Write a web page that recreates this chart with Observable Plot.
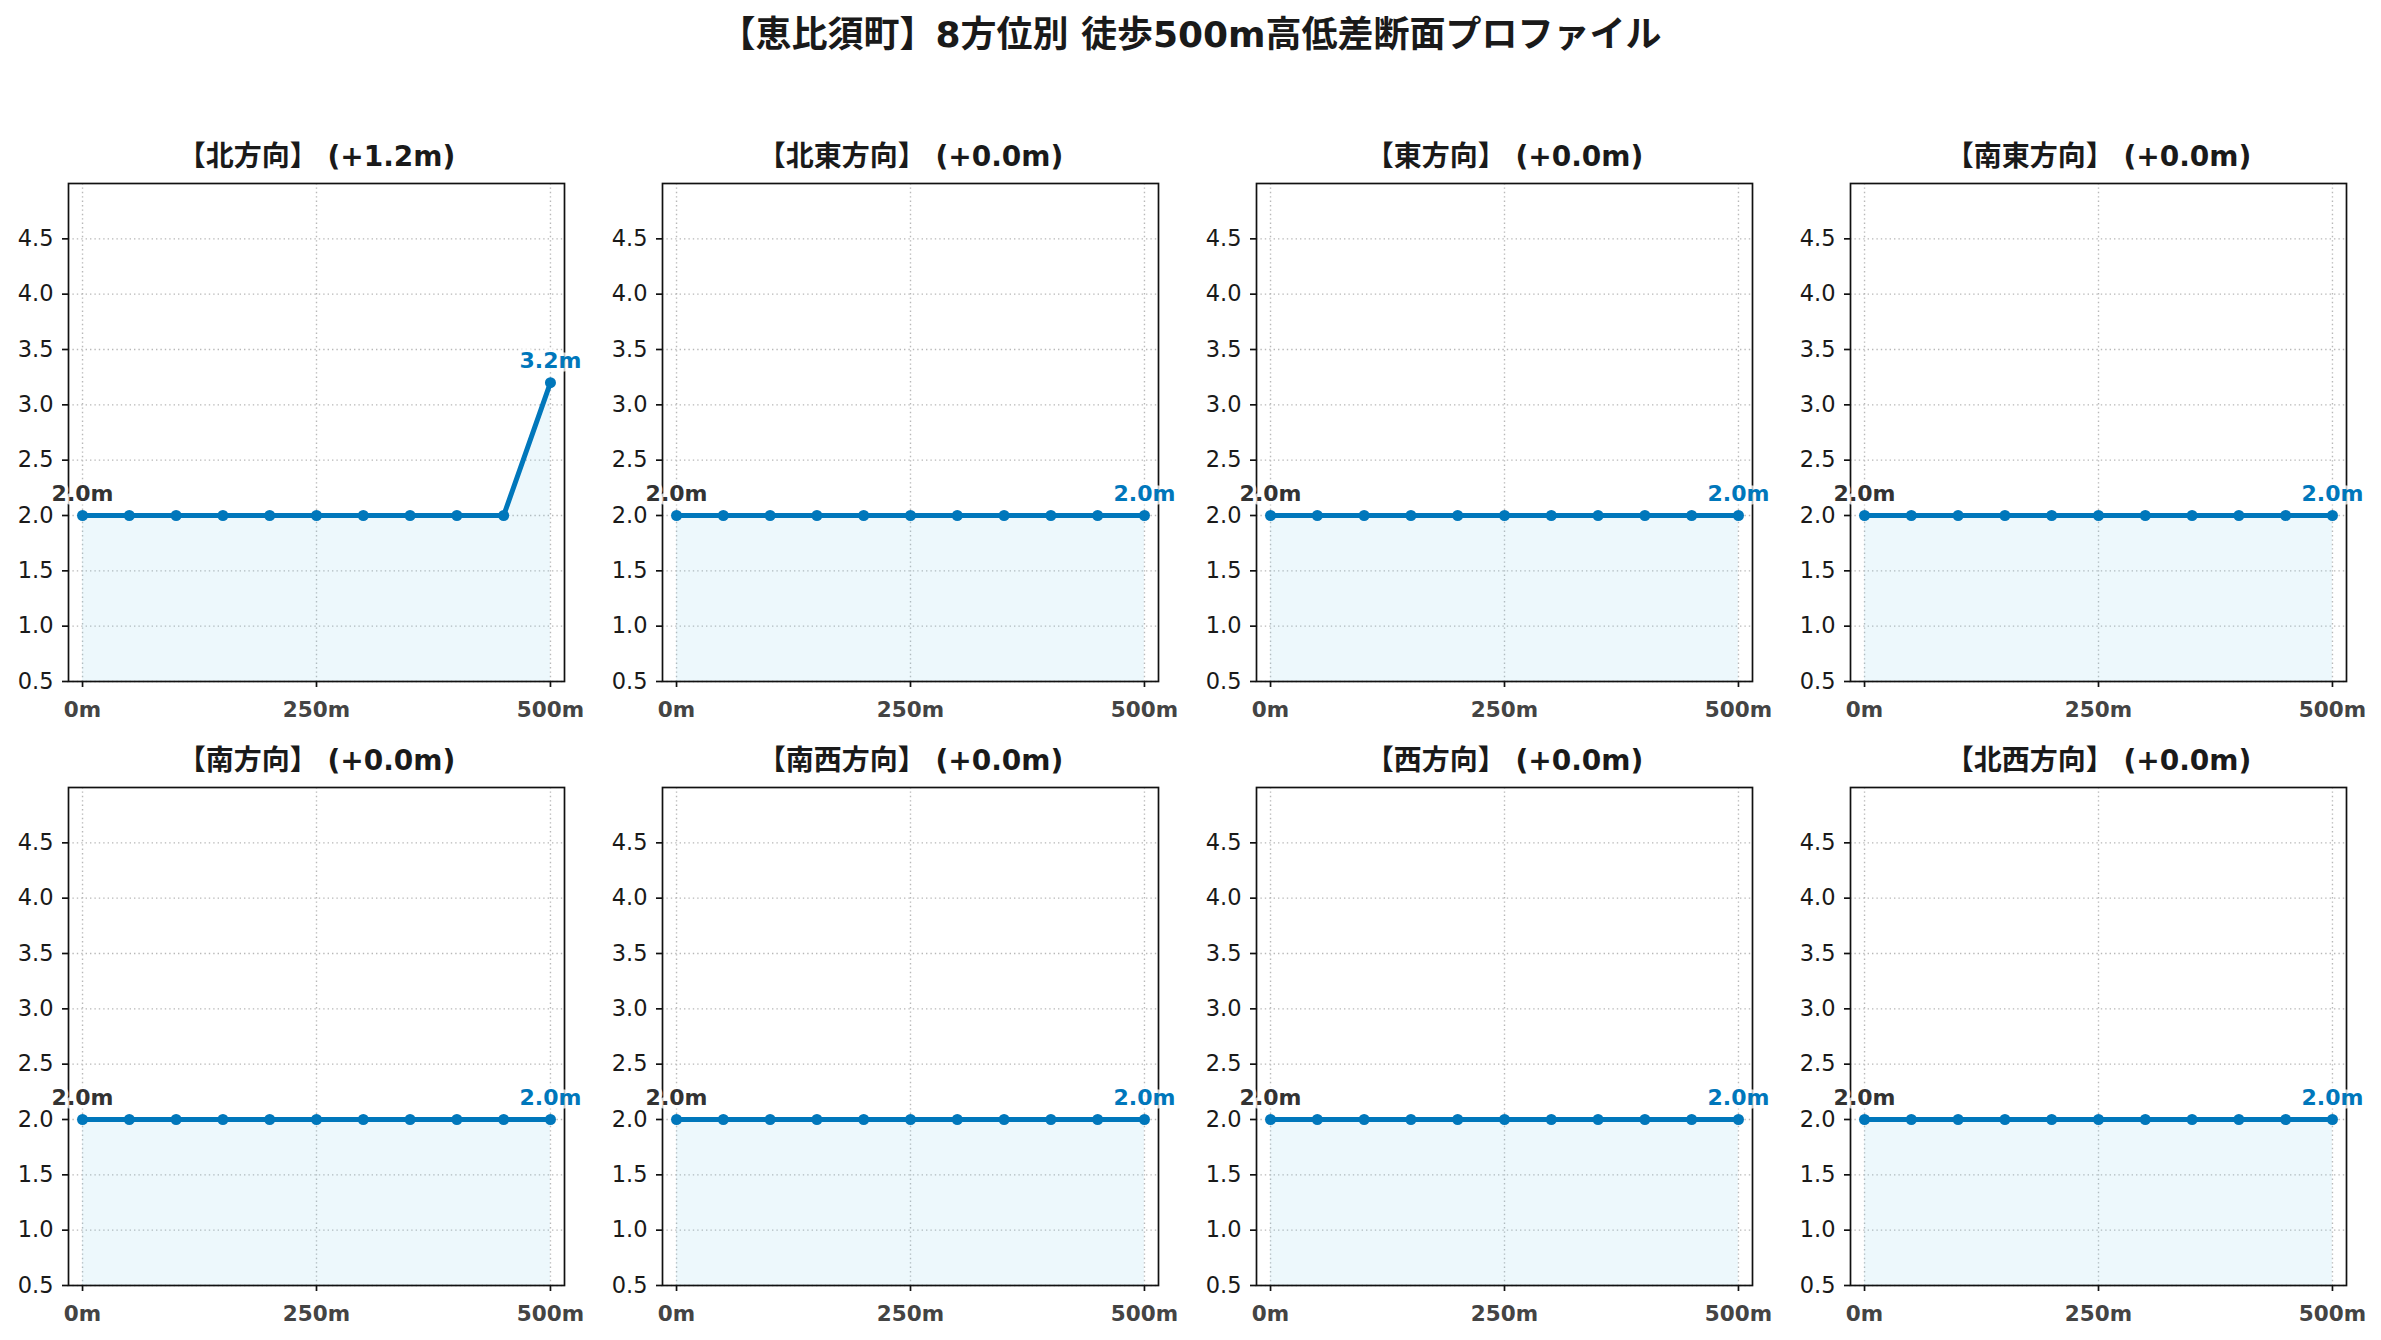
<!DOCTYPE html>
<html><head><meta charset="utf-8">
<script src="https://cdn.jsdelivr.net/npm/d3@7"></script>
<script src="https://cdn.jsdelivr.net/npm/@observablehq/plot@0.6"></script>
<style>
body{margin:0;background:#fff;}
#title{width:2381px;height:54px;padding-top:6px;line-height:58px;text-align:center;font-weight:bold;font-size:36px;font-family:"DejaVu Sans","Noto Sans CJK JP",sans-serif;color:#1a1a1a;}
#chart{width:2381px;}
</style></head><body>
<div id="title"></div>
<div id="chart"></div>
<script>
const mainTitle = "【恵比須町】8方位別 徒歩500m高低差断面プロファイル";
const directions = ["北方向","北東方向","東方向","南東方向","南方向","南西方向","西方向","北西方向"];
const distances = [0,50,100,150,200,250,300,350,400,450,500];
const elevNorth     = [2.0,2.0,2.0,2.0,2.0,2.0,2.0,2.0,2.0,2.0,3.2];
const elevNorthEast = [2.0,2.0,2.0,2.0,2.0,2.0,2.0,2.0,2.0,2.0,2.0];
const elevEast      = [2.0,2.0,2.0,2.0,2.0,2.0,2.0,2.0,2.0,2.0,2.0];
const elevSouthEast = [2.0,2.0,2.0,2.0,2.0,2.0,2.0,2.0,2.0,2.0,2.0];
const elevSouth     = [2.0,2.0,2.0,2.0,2.0,2.0,2.0,2.0,2.0,2.0,2.0];
const elevSouthWest = [2.0,2.0,2.0,2.0,2.0,2.0,2.0,2.0,2.0,2.0,2.0];
const elevWest      = [2.0,2.0,2.0,2.0,2.0,2.0,2.0,2.0,2.0,2.0,2.0];
const elevNorthWest = [2.0,2.0,2.0,2.0,2.0,2.0,2.0,2.0,2.0,2.0,2.0];
const xTicks = [0,250,500];
const yTicks = [0.5,1.0,1.5,2.0,2.5,3.0,3.5,4.0,4.5];
const xDomain = [-15,515];
const yDomain = [0.5,5.0];

const elevations = [elevNorth,elevNorthEast,elevEast,elevSouthEast,elevSouth,elevSouthWest,elevWest,elevNorthWest];
const BLUE = "#0077bb";
const FONT = '"DejaVu Sans","Noto Sans CJK JP",sans-serif';

document.getElementById("title").textContent = mainTitle;

const rows = [];
directions.forEach((dir,i) => elevations[i].forEach((e,j) => rows.push({dir, col:i%4, row:Math.floor(i/4), dist:distances[j], elev:e})));
const panels = directions.map((dir,i) => {
  const e = elevations[i];
  const diff = e[e.length-1] - e[0];
  return {dir, col:i%4, row:Math.floor(i/4), title:`【${dir}】 (${diff>=0?"+":""}${diff.toFixed(1)}m)`};
});
const firsts = rows.filter(r => r.dist === distances[0]);
const lasts = rows.filter(r => r.dist === distances[distances.length-1]);
const F = {fx:"col", fy:"row"};

const chart = Plot.plot({
  width: 2381, height: 1280,
  marginLeft: 68, marginRight: 35, marginTop: 123, marginBottom: 55,
  style: {fontFamily: FONT, fontSize: "22px", background: "white", color: "#222"},
  fx: {axis: null, domain: [0,1,2,3], paddingInner: 0.165, paddingOuter: 0},
  fy: {axis: null, domain: [0,1], paddingInner: 0.1755, paddingOuter: 0},
  x: {domain: xDomain, axis: null},
  y: {domain: yDomain, axis: null},
  marks: [
    Plot.gridX(xTicks, {facetAnchor: null, stroke: "#b8b8b8", strokeOpacity: 1, strokeWidth: 1.4, strokeDasharray: "1.4,3"}),
    Plot.gridY(yTicks, {facetAnchor: null, stroke: "#b8b8b8", strokeOpacity: 1, strokeWidth: 1.4, strokeDasharray: "1.4,3"}),
    Plot.areaY(rows, {...F, x: "dist", y1: () => yDomain[0], y2: "elev", fill: "#87ceeb", fillOpacity: 0.15}),
    Plot.lineY(rows, {...F, x: "dist", y: "elev", stroke: BLUE, strokeWidth: 5}),
    Plot.dot(rows, {...F, x: "dist", y: "elev", r: 5.5, fill: BLUE, stroke: "none"}),
    Plot.frame({stroke: "#111", strokeWidth: 1.7}),
    Plot.axisY(yTicks, {facetAnchor: null, anchor: "left", tickSize: 6, tickPadding: 9, tickFormat: d3.format(".1f"), fontSize: 22.5, fill: "#1a1a1a", stroke: "#111", strokeWidth: 1.7, label: null}),
    Plot.axisX(xTicks, {facetAnchor: null, anchor: "bottom", tickSize: 6, tickPadding: 14, tickFormat: d => d + "m", fontSize: 21.5, fontWeight: "bold", fill: "#444", stroke: "#111", strokeWidth: 1.7, label: null}),
    Plot.text(panels, {...F, text: "title", frameAnchor: "top", dy: -26, lineAnchor: "middle", fontSize: 28, fontWeight: "bold", fill: "#1a1a1a"}),
    Plot.text(firsts, {...F, x: "dist", y: "elev", text: d => d.elev.toFixed(1) + "m", dy: -22, lineAnchor: "middle", fontSize: 22, fontWeight: "bold", fill: "#333", stroke: "white", strokeOpacity: 0.75, strokeWidth: 7, paintOrder: "stroke"}),
    Plot.text(lasts, {...F, x: "dist", y: "elev", text: d => d.elev.toFixed(1) + "m", dy: -22, lineAnchor: "middle", fontSize: 22, fontWeight: "bold", fill: BLUE, stroke: "white", strokeOpacity: 0.75, strokeWidth: 7, paintOrder: "stroke"})
  ]
});
document.getElementById("chart").appendChild(chart);
</script>
</body></html>
